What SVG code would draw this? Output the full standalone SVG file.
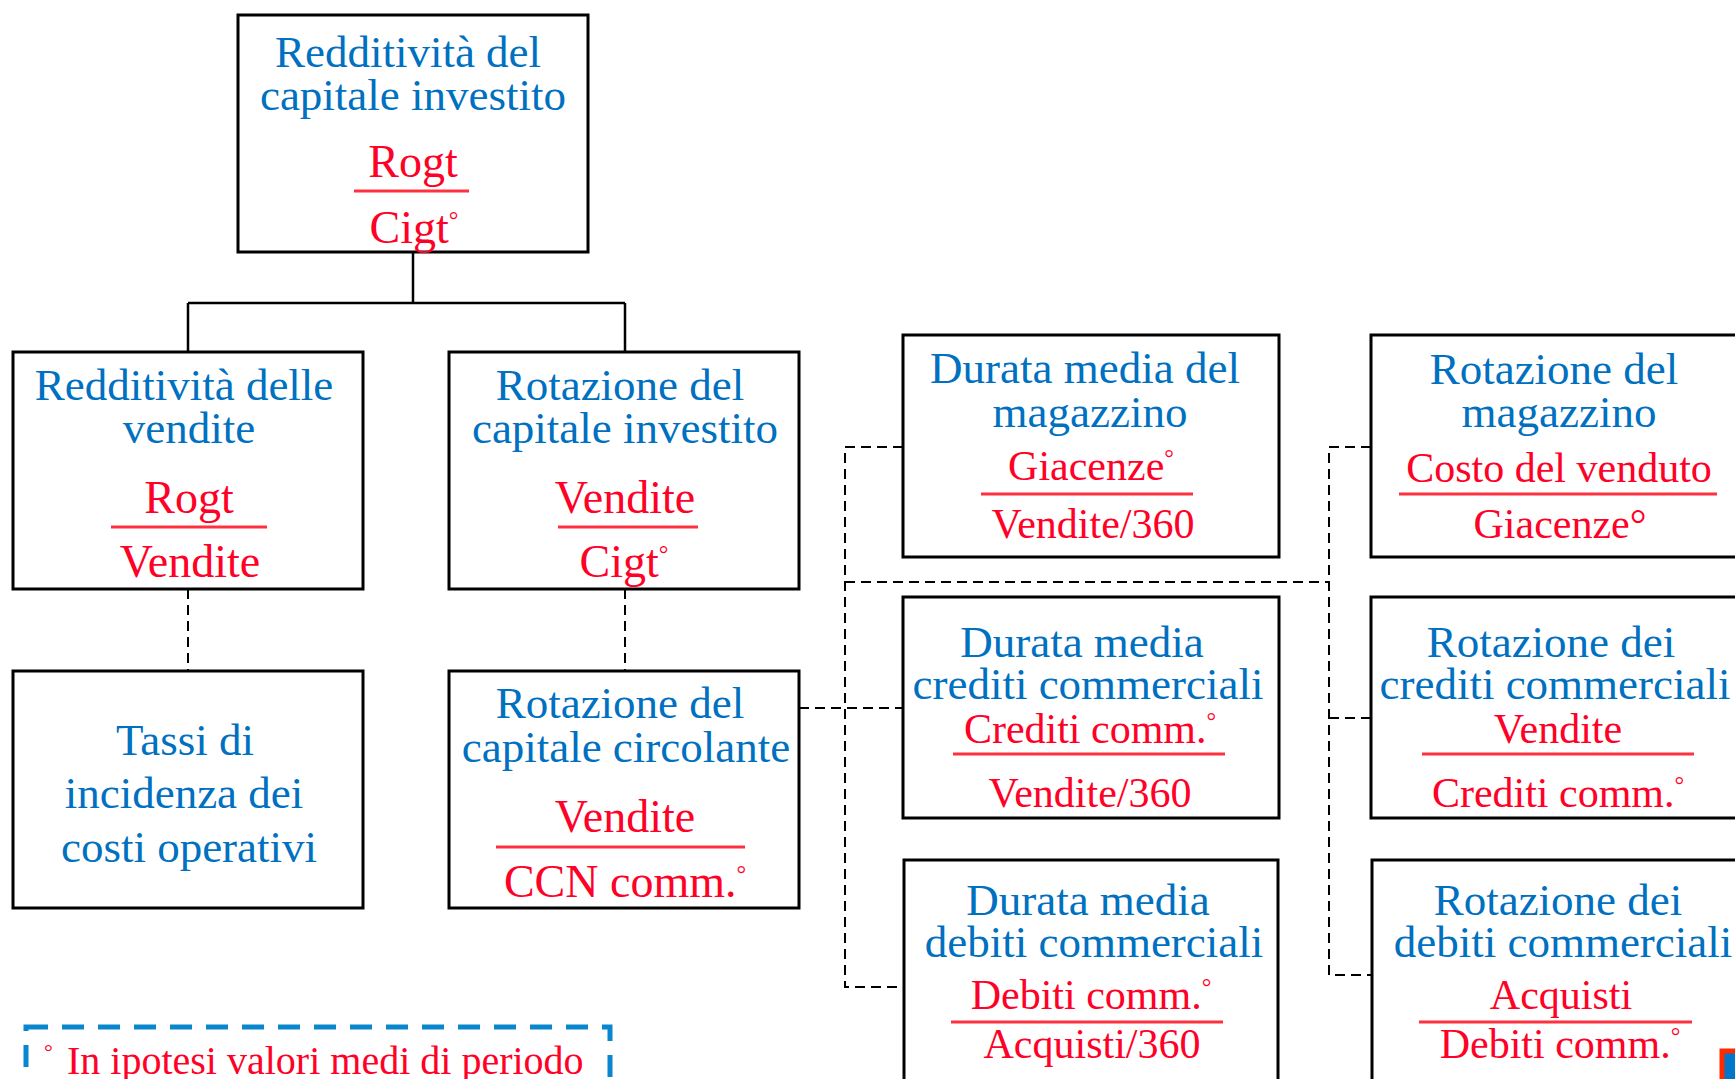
<svg xmlns="http://www.w3.org/2000/svg" width="1735" height="1079" viewBox="0 0 1735 1079">
<style>
.box{fill:#fff;stroke:#000;stroke-width:3}
.b{font-family:"Liberation Serif","Times New Roman",serif;font-size:45px;fill:#0070C0;text-anchor:middle}
.r{font-family:"Liberation Serif","Times New Roman",serif;font-size:46px;fill:#FF0026;text-anchor:middle}
.r2{font-family:"Liberation Serif","Times New Roman",serif;font-size:42px;fill:#FF0026;text-anchor:middle}
.frac{stroke:#FF3040;stroke-width:3}
.sup{font-size:24px}
.solid{fill:none;stroke:#000;stroke-width:2.5}
.dash{fill:none;stroke:#000;stroke-width:2;stroke-dasharray:10,6}
</style>
<rect width="1735" height="1079" fill="#fff"/>
<g id="connectors">
<path class="solid" d="M413,252 V303 M188,303 H625 M188,303 V352 M625,303 V352"/>
<path class="dash" d="M188,589 V671 M625,589 V671"/>
<path class="dash" d="M903,447 H845 V987 H904 M799,708 H903 M845,582 H1329"/>
<path class="dash" d="M1371,447 H1329 V975 H1372 M1329,718 H1371"/>
</g>
<g id="n-roi">
<rect class="box" x="238" y="15" width="350" height="237"/>
<text class="b" x="408" y="67">Redditività del</text>
<text class="b" x="413" y="110">capitale investito</text>
<text class="r" x="413" y="177">Rogt</text>
<line class="frac" x1="354" y1="191" x2="469" y2="191"/>
<text class="r" x="414" y="243">Cigt<tspan class="sup" dy="-15">°</tspan></text>
</g>
<g id="n-ros">
<rect class="box" x="13" y="352" width="350" height="237"/>
<text class="b" x="184" y="400">Redditività delle</text>
<text class="b" x="189" y="443">vendite</text>
<text class="r" x="189" y="513">Rogt</text>
<line class="frac" x1="111" y1="527" x2="267" y2="527"/>
<text class="r" x="190" y="577">Vendite</text>
</g>
<g id="n-rot-ci">
<rect class="box" x="449" y="352" width="350" height="237"/>
<text class="b" x="620" y="400">Rotazione del</text>
<text class="b" x="625" y="443">capitale investito</text>
<text class="r" x="625" y="513">Vendite</text>
<line class="frac" x1="558" y1="527" x2="698" y2="527"/>
<text class="r" x="624" y="577">Cigt<tspan class="sup" dy="-15">°</tspan></text>
</g>
<g id="n-tassi">
<rect class="box" x="13" y="671" width="350" height="237"/>
<text class="b" x="185" y="755">Tassi di</text>
<text class="b" x="184" y="808">incidenza dei</text>
<text class="b" x="189" y="862">costi operativi</text>
</g>
<g id="n-rot-cc">
<rect class="box" x="449" y="671" width="350" height="237"/>
<text class="b" x="620" y="718">Rotazione del</text>
<text class="b" x="626" y="762">capitale circolante</text>
<text class="r" x="625" y="832">Vendite</text>
<line class="frac" x1="496" y1="847" x2="745" y2="847"/>
<text class="r" x="625" y="897">CCN comm.<tspan class="sup" dy="-15">°</tspan></text>
</g>
<g id="n-dm-mag">
<rect class="box" x="903" y="335" width="376" height="222"/>
<text class="b" x="1085" y="383">Durata media del</text>
<text class="b" x="1090" y="427">magazzino</text>
<text class="r2" x="1091" y="480">Giacenze<tspan class="sup" dy="-14">°</tspan></text>
<line class="frac" x1="981" y1="494" x2="1193" y2="494"/>
<text class="r2" x="1093" y="538">Vendite/360</text>
</g>
<g id="n-dm-cred">
<rect class="box" x="903" y="597" width="376" height="221"/>
<text class="b" x="1082" y="657">Durata media</text>
<text class="b" x="1088" y="699">crediti commerciali</text>
<text class="r2" x="1090" y="743">Crediti comm.<tspan class="sup" dy="-14">°</tspan></text>
<line class="frac" x1="953" y1="754" x2="1225" y2="754"/>
<text class="r2" x="1090" y="807">Vendite/360</text>
</g>
<g id="n-dm-deb">
<rect class="box" x="904" y="860" width="374" height="260"/>
<text class="b" x="1088" y="915">Durata media</text>
<text class="b" x="1094" y="957">debiti commerciali</text>
<text class="r2" x="1091" y="1009">Debiti comm.<tspan class="sup" dy="-14">°</tspan></text>
<line class="frac" x1="951" y1="1022" x2="1223" y2="1022"/>
<text class="r2" x="1092" y="1058">Acquisti/360</text>
</g>
<g id="n-rot-mag">
<rect class="box" x="1371" y="335" width="400" height="222"/>
<text class="b" x="1554" y="384">Rotazione del</text>
<text class="b" x="1559" y="427">magazzino</text>
<text class="r2" x="1559" y="482">Costo del venduto</text>
<line class="frac" x1="1399" y1="494" x2="1717" y2="494"/>
<text class="r2" x="1560" y="538">Giacenze°</text>
</g>
<g id="n-rot-cred">
<rect class="box" x="1371" y="597" width="400" height="221"/>
<text class="b" x="1551" y="657">Rotazione dei</text>
<text class="b" x="1555" y="699">crediti commerciali</text>
<text class="r2" x="1558" y="743">Vendite</text>
<line class="frac" x1="1422" y1="754" x2="1694" y2="754"/>
<text class="r2" x="1558" y="807">Crediti comm.<tspan class="sup" dy="-14">°</tspan></text>
</g>
<g id="n-rot-deb">
<rect class="box" x="1372" y="860" width="400" height="260"/>
<text class="b" x="1558" y="915">Rotazione dei</text>
<text class="b" x="1563" y="957">debiti commerciali</text>
<text class="r2" x="1561" y="1009">Acquisti</text>
<line class="frac" x1="1419" y1="1022" x2="1692" y2="1022"/>
<text class="r2" x="1560" y="1058">Debiti comm.<tspan class="sup" dy="-14">°</tspan></text>
</g>
<g id="legend">
<rect x="26" y="1027" width="584" height="120" fill="none" stroke="#0A86CE" stroke-width="5" stroke-dasharray="22,14"/>
<text font-family="'Liberation Serif','Times New Roman',serif" font-size="40" fill="#FF0026" x="44" y="1074"><tspan font-size="22" dy="-15">°</tspan><tspan x="67" dy="15">In ipotesi valori medi di periodo</tspan></text>
</g>
<rect x="1722" y="1051" width="30" height="40" fill="#0077C8" stroke="#FF2A00" stroke-width="5"/>
</svg>
